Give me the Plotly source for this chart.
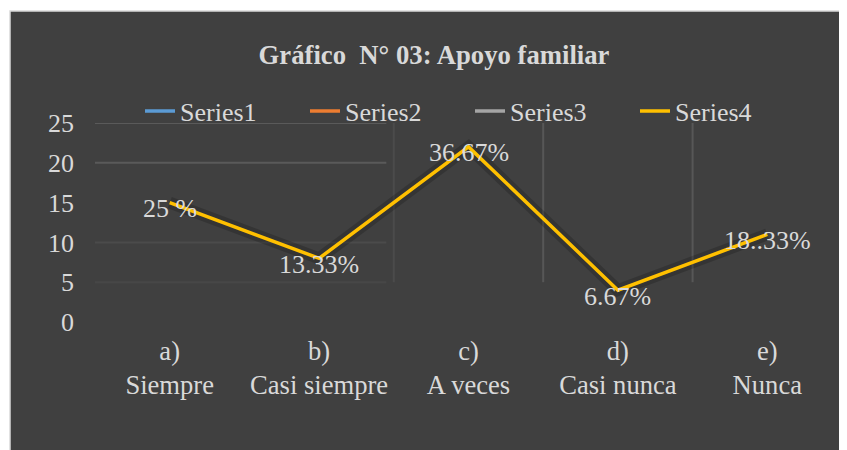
import plotly.graph_objects as go

categories = ["a)<br>Siempre", "b)<br>Casi siempre", "c)<br>A veces", "d)<br>Casi nunca", "e)<br>Nunca"]
series1 = [None, None, None, None, None]
series2 = [None, None, None, None, None]
series3 = [None, None, None, None, None]
series4 = [15, 8, 22, 4, 11]
labels4 = ["25 %", "13.33%", "36.67%", "6.67%", "18..33%"]
y_ticks = [0, 5, 10, 15, 20, 25]
title_text = "<b>Gráfico  N° 03: Apoyo familiar</b>"

FONT = "Liberation Serif"
TXT = "#d9d9d9"
BG = "#404040"
FS = 26

W, H = 839, 442
ML, MR, MT, MB = 87, 5, 115, 128
PW, PH = W - ML - MR, H - MT - MB

fig = go.Figure()

for name, vals, col in [("Series1", series1, "#5B9BD5"),
                        ("Series2", series2, "#ED7D31"),
                        ("Series3", series3, "#A5A5A5")]:
    fig.add_trace(go.Scatter(x=categories, y=vals, mode="lines", name=name,
                             line=dict(color=col, width=3.5)))

# soft shadow under Series4
fig.add_trace(go.Scatter(x=categories, y=series4, mode="lines", showlegend=False,
                         line=dict(color="rgba(0,0,0,0.18)", width=12), hoverinfo="skip"))
fig.add_trace(go.Scatter(x=categories, y=series4, mode="lines", name="Series4",
                         line=dict(color="#FFC000", width=3.5)))

for c, v, t in zip(categories, series4, labels4):
    fig.add_annotation(x=c, y=v, text=t, showarrow=False, yshift=-6,
                       font=dict(family=FONT, size=FS, color=TXT))

shapes = [dict(type="rect", xref="paper", yref="paper",
               x0=(2 - ML) / PW, x1=1.05,
               y0=-0.8, y1=(H - MB - 3) / PH,
               fillcolor=BG, line=dict(color="#d9d9d9", width=1.5),
               layer="below")]
# partial horizontal gridlines
for yv, col in [(25, "#5a5a5a"), (20, "#5a5a5a"), (10, "#4b4b4b"), (5, "#474747")]:
    shapes.append(dict(type="line", xref="x", yref="y", x0=-0.5, x1=1.45, y0=yv, y1=yv,
                       line=dict(color=col, width=2), layer="below"))
# partial vertical gridlines between categories
for xv, col in [(1.5, "#4b4b4b"), (2.5, "#575757"), (3.5, "#575757")]:
    shapes.append(dict(type="line", xref="x", yref="y", x0=xv, x1=xv, y0=5, y1=25,
                       line=dict(color=col, width=2), layer="below"))

fig.update_layout(
    width=W, height=H,
    margin=dict(l=ML, r=MR, t=MT, b=MB, autoexpand=False),
    paper_bgcolor="white", plot_bgcolor="rgba(0,0,0,0)",
    shapes=shapes,
    title=dict(text=title_text, x=426 / W, xanchor="center", y=1 - 47 / H, yanchor="middle",
               xref="container", yref="container",
               font=dict(family=FONT, size=26.7, color=TXT)),
    legend=dict(orientation="h", xref="container", yref="container",
                x=132 / W, xanchor="left", y=1 - 103 / H, yanchor="middle",
                font=dict(family=FONT, size=FS, color=TXT), bgcolor="rgba(0,0,0,0)",
                entrywidth=120, entrywidthmode="pixels"),
    xaxis=dict(showgrid=False, zeroline=False, showline=False, ticks="",
               tickfont=dict(family=FONT, size=26.6, color=TXT), ticklabelstandoff=10,
               range=[-0.5, 4.5]),
    yaxis=dict(range=[0, 25], tickvals=y_ticks, showgrid=False, zeroline=False, showline=False,
               ticks="", tickfont=dict(family=FONT, size=FS, color=TXT), ticklabelstandoff=20),
    showlegend=True,
)

fig.write_html("out.html")
